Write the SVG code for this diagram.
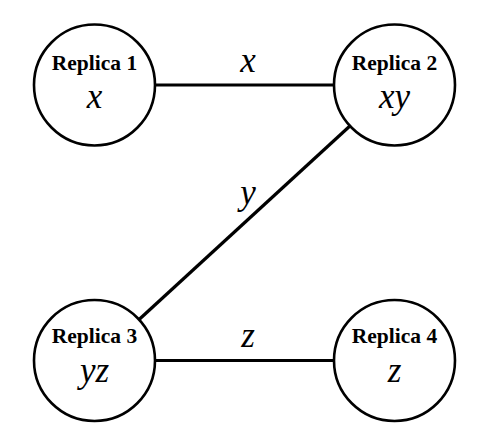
<svg xmlns="http://www.w3.org/2000/svg" width="488" height="448" viewBox="0 0 488 448">
<style>
.node{fill:#fff;stroke:#000;stroke-width:2.6}
.edge{stroke:#000;stroke-width:3.2;fill:none}
.title{font-family:"Liberation Serif",serif;font-weight:bold;font-size:21.5px;text-anchor:middle;fill:#000}
.math{font-family:"Liberation Serif",serif;font-style:italic;font-size:35px;text-anchor:middle;fill:#000}
</style>
<rect width="488" height="448" fill="#fff"/>
<g id="connectors">
<line class="edge" x1="155" y1="85" x2="334" y2="85"/>
<line class="edge" x1="349.9" y1="126" x2="139.1" y2="319.5"/>
<line class="edge" x1="155" y1="360.5" x2="334" y2="360.5"/>
<text class="math" x="248" y="72">x</text>
<text class="math" x="248" y="204">y</text>
<text class="math" x="248" y="347">z</text>
</g>
<g id="replica1">
<circle class="node" cx="94.5" cy="85" r="60.5"/>
<text class="title" x="94.5" y="70">Replica 1</text>
<text class="math" x="94.5" y="108">x</text>
</g>
<g id="replica2">
<circle class="node" cx="394.5" cy="85" r="60.5"/>
<text class="title" x="394.5" y="70">Replica 2</text>
<text class="math" x="394.5" y="108">xy</text>
</g>
<g id="replica3">
<circle class="node" cx="94.5" cy="360.5" r="60.5"/>
<text class="title" x="94.5" y="343">Replica 3</text>
<text class="math" x="94.5" y="382">yz</text>
</g>
<g id="replica4">
<circle class="node" cx="394.5" cy="360.5" r="60.5"/>
<text class="title" x="394.5" y="343">Replica 4</text>
<text class="math" x="394.5" y="382">z</text>
</g>
</svg>
